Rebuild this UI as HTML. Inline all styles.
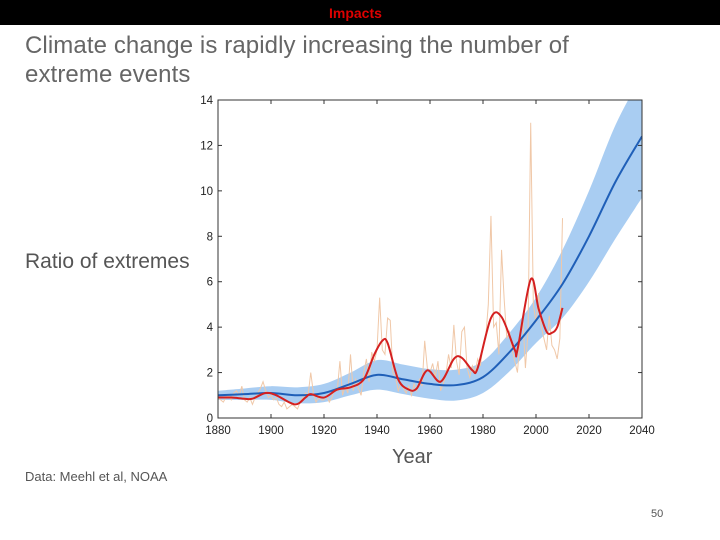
<!DOCTYPE html>
<html><head><meta charset="utf-8"><style>
html,body{margin:0;padding:0;background:#fff;}
#page{position:relative;width:720px;height:540px;overflow:hidden;font-family:"Liberation Sans",sans-serif;}
.t{position:absolute;white-space:nowrap;}
</style></head><body>
<div id="page">
<div style="position:absolute;left:0;top:0;width:720px;height:25px;background:#000;"></div>
<div class="t" style="left:329px;top:5px;font-size:14px;font-weight:bold;color:#d00;">Impacts</div>
<div class="t" style="left:25px;top:31px;font-size:24px;line-height:29px;color:#666;letter-spacing:0.1px;">Climate change is rapidly increasing the number of<br>extreme events</div>
<div class="t" style="left:25px;top:250px;font-size:21px;color:#555;">Ratio of extremes</div>
<div class="t" style="left:392px;top:446px;font-size:20px;color:#555;">Year</div>
<div class="t" style="left:25px;top:469px;font-size:13px;color:#555;">Data: Meehl et al, NOAA</div>
<div class="t" style="left:651px;top:508px;font-size:11px;color:#555;">50</div>
<svg id="chart" width="720" height="540" style="position:absolute;left:0;top:0;"></svg>
</div>
<script>
const xTicks=[1880,1900,1920,1940,1960,1980,2000,2020,2040];
const yTicks=[0,2,4,6,8,10,12,14];
const meanYears=[1880,1890,1900,1910,1920,1930,1940,1950,1960,1970,1980,1990,2000,2010,2020,2030,2040];
const meanVals=[1.0,1.05,1.1,1.0,1.1,1.5,1.9,1.7,1.5,1.45,1.8,2.9,4.3,5.9,8.0,10.4,12.4];
const bandHalf=[0.2,0.25,0.3,0.35,0.4,0.5,0.65,0.65,0.65,0.68,0.7,0.85,1.0,1.5,2.0,2.5,2.7];
const smoothYears=[1880,1885,1890,1893,1898,1902,1909,1913,1915,1920,1925,1930,1935,1939,1942,1944,1948,1952,1955,1959,1964,1969,1972,1976,1978,1983,1987,1992,1993,1998,2001,2004,2006,2008,2010];
const smoothVals=[0.9,0.9,0.85,0.85,1.1,1.0,0.6,0.9,1.05,0.9,1.25,1.35,1.7,2.8,3.4,3.3,1.7,1.25,1.3,2.1,1.6,2.6,2.65,2.1,2.2,4.4,4.45,3.0,3.0,6.1,4.8,3.8,3.75,4.0,4.85];
const annualStart=1880;
const annualVals=[.9,.8,.7,.9,1.0,.8,1.1,1.2,1.0,1.4,.8,.7,.9,.6,.9,1.1,1.3,1.6,1.2,.9,1.0,.8,.9,.6,.5,.7,.4,.5,.6,.5,.4,.7,.9,1.1,1.0,2.0,1.1,.7,.9,.8,.8,1.0,.7,.9,1.3,1.2,2.5,1.0,1.4,1.1,2.8,1.2,1.7,1.3,1.0,2.0,2.6,1.6,2.9,2.5,3.0,5.3,3.0,2.8,4.4,4.3,2.0,1.8,1.2,1.5,1.3,1.1,1.4,1.0,1.5,1.2,1.7,1.4,3.4,2.2,2.0,2.4,1.8,2.5,1.2,1.5,1.9,2.8,2.2,4.1,2.5,1.9,3.8,4.0,2.2,1.8,2.3,2.0,2.6,2.3,3.2,3.5,5.0,8.9,4.0,4.2,2.8,7.4,5.2,3.5,3.8,3.0,2.5,2.0,3.5,4.5,2.2,3.8,13.0,5.0,4.2,5.5,4.0,3.5,3.0,4.5,3.2,3.0,2.6,3.5,8.8];

const L=218,R=642,T=100,B=418;
const X=v=>L+(v-1880)/(160)*(R-L);
const Y=v=>B-v/14*(B-T);
const svg=document.getElementById('chart');
const NS='http://www.w3.org/2000/svg';
function mk(tag,attrs){const e=document.createElementNS(NS,tag);for(const k in attrs)e.setAttribute(k,attrs[k]);svg.appendChild(e);return e;}
function smooth(pts){let d='M'+pts[0][0]+','+pts[0][1];for(let i=0;i<pts.length-1;i++){const p0=pts[Math.max(0,i-1)],p1=pts[i],p2=pts[i+1],p3=pts[Math.min(pts.length-1,i+2)];const c1x=p1[0]+(p2[0]-p0[0])/6,c1y=p1[1]+(p2[1]-p0[1])/6,c2x=p2[0]-(p3[0]-p1[0])/6,c2y=p2[1]-(p3[1]-p1[1])/6;d+=` C${c1x},${c1y} ${c2x},${c2y} ${p2[0]},${p2[1]}`;}return d;}
const defs=mk('clipPath',{id:'clip'});const cr=document.createElementNS(NS,'rect');cr.setAttribute('x',L);cr.setAttribute('y',T);cr.setAttribute('width',R-L);cr.setAttribute('height',B-T);defs.appendChild(cr);
const fr=mk('rect',{x:L,y:T,width:R-L,height:B-T,fill:'#fff'});


const up=meanYears.map((y,i)=>[X(y),Y(meanVals[i]+bandHalf[i])]);
const lo=meanYears.map((y,i)=>[X(y),Y(meanVals[i]-bandHalf[i])]).reverse();
const band=mk('path',{d:smooth(up)+' L'+smooth(lo).slice(1)+' Z',fill:'#a9cdf2','clip-path':'url(#clip)'});


const ann=mk('polyline',{points:annualVals.map((v,i)=>X(annualStart+i)+','+Y(v)).join(' '),fill:'none',stroke:'#f0c8a8','stroke-width':1,'clip-path':'url(#clip)'});


const mean=mk('path',{d:smooth(meanYears.map((y,i)=>[X(y),Y(meanVals[i])])),fill:'none',stroke:'#1f5fb8','stroke-width':2,'clip-path':'url(#clip)'});


const sm=mk('path',{d:smooth(smoothYears.map((y,i)=>[X(y),Y(smoothVals[i])])),fill:'none',stroke:'#d42020','stroke-width':2});


const frame=mk('rect',{x:L,y:T,width:R-L,height:B-T,fill:'none',stroke:'#333','stroke-width':1});


xTicks.forEach(t=>{const x=X(t);
mk('line',{x1:x,x2:x,y1:B,y2:B-4,stroke:'#333'});mk('line',{x1:x,x2:x,y1:T,y2:T+4,stroke:'#333'});
const tx=mk('text',{x:x,y:B+16,'font-size':11.5,'text-anchor':'middle',fill:'#222','font-family':'Liberation Sans, sans-serif'});tx.textContent=t;

});
yTicks.forEach(t=>{const y=Y(t);
mk('line',{x1:L,x2:L+4,y1:y,y2:y,stroke:'#333'});mk('line',{x1:R,x2:R-4,y1:y,y2:y,stroke:'#333'});
const tx=mk('text',{x:L-5,y:y+4,'font-size':11.5,'text-anchor':'end',fill:'#222','font-family':'Liberation Sans, sans-serif'});tx.textContent=t;

});
</script>
</body></html>
